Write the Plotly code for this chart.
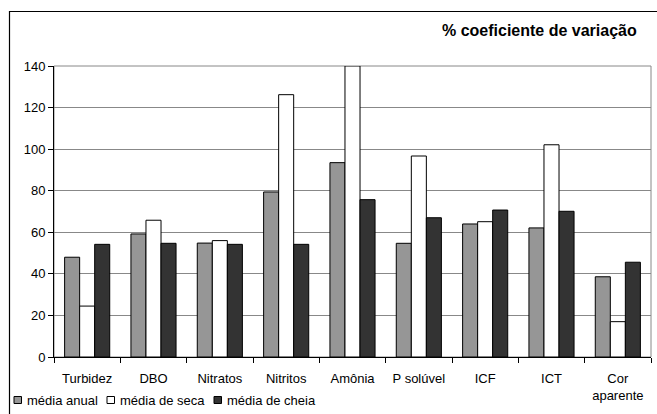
import plotly.graph_objects as go

# Coefficient of variation (%) per water-quality parameter
categorias = ["Turbidez", "DBO", "Nitratos", "Nitritos", "Amônia",
              "P solúvel", "ICF", "ICT", "Cor<br>aparente"]
media_anual = [48.0, 59.2, 54.8, 79.4, 93.5, 54.7, 64.0, 62.1, 38.6]
media_seca = [24.5, 65.8, 56.0, 126.2, 140.0, 96.7, 65.1, 102.1, 17.0]
media_cheia = [54.2, 54.7, 54.2, 54.2, 75.7, 67.0, 70.7, 70.1, 45.6]
y_ticks = [0, 20, 40, 60, 80, 100, 120, 140]

FONT = "Liberation Sans, Arial, sans-serif"

series = [
    ("média anual", media_anual, "#969696"),
    ("média de seca", media_seca, "#ffffff"),
    ("média de cheia", media_cheia, "#333333"),
]

fig = go.Figure()
for name, vals, color in series:
    fig.add_trace(go.Bar(
        x=categorias, y=vals, name=name,
        marker=dict(color=color, line=dict(color="#000000", width=1)),
    ))

W, H = 657, 414
L, R, T, B = 54, 6, 66, 57
pw, ph = W - L - R, H - T - B

def px_x(px):
    return (px - L) / pw

def px_y(py):
    return (H - B - py) / ph

shapes = [
    # plot area frame
    dict(type="rect", xref="paper", yref="paper", x0=0, x1=1, y0=0, y1=1,
         line=dict(color="#888888", width=1), layer="below"),
    # chart area frame
    dict(type="rect", xref="paper", yref="paper",
         x0=px_x(9.5), x1=px_x(700), y0=px_y(470), y1=px_y(11.5),
         line=dict(color="#000000", width=1.2), layer="above"),
]
annotations = [
    dict(text="<b>% coeficiente de variação</b>", xref="paper", yref="paper",
         x=px_x(639), xanchor="right", y=px_y(31), yanchor="middle",
         showarrow=False, font=dict(size=16, family=FONT)),
]

# compact legend row under the axis: swatch + label per series
legend_x = [14, 107, 214]
legend_y = 400
for (name, _, color), lx in zip(series, legend_x):
    shapes.append(dict(
        type="rect", xref="paper", yref="paper",
        x0=px_x(lx), x1=px_x(lx + 7.5), y0=px_y(legend_y + 3.5), y1=px_y(legend_y - 3.5),
        fillcolor=color, line=dict(color="#000000", width=1), layer="above"))
    annotations.append(dict(
        text=name, xref="paper", yref="paper", x=px_x(lx + 11), xanchor="left",
        y=px_y(legend_y), yanchor="middle", showarrow=False,
        font=dict(size=13, family=FONT)))

fig.update_layout(
    width=W, height=H,
    margin=dict(l=L, r=R, t=T, b=B, pad=0),
    paper_bgcolor="white", plot_bgcolor="white",
    barmode="group", bargap=0.32, bargroupgap=0,
    font=dict(family=FONT, size=13, color="#000000"),
    showlegend=False,
    xaxis=dict(
        type="category", showline=True, linecolor="#000000", linewidth=1,
        ticks="outside", tickson="boundaries", ticklen=5, tickcolor="#000000",
        showgrid=False, tickfont=dict(size=13, family=FONT),
        ticklabelstandoff=9,
    ),
    yaxis=dict(
        range=[0, 140], tickvals=y_ticks, showline=True, linecolor="#000000",
        linewidth=1, ticks="outside", ticklen=5, tickcolor="#000000",
        showgrid=True, gridcolor="#888888", gridwidth=1,
        zeroline=False, tickfont=dict(size=13, family=FONT),
    ),
    shapes=shapes,
    annotations=annotations,
)

fig.write_html("out.html")
